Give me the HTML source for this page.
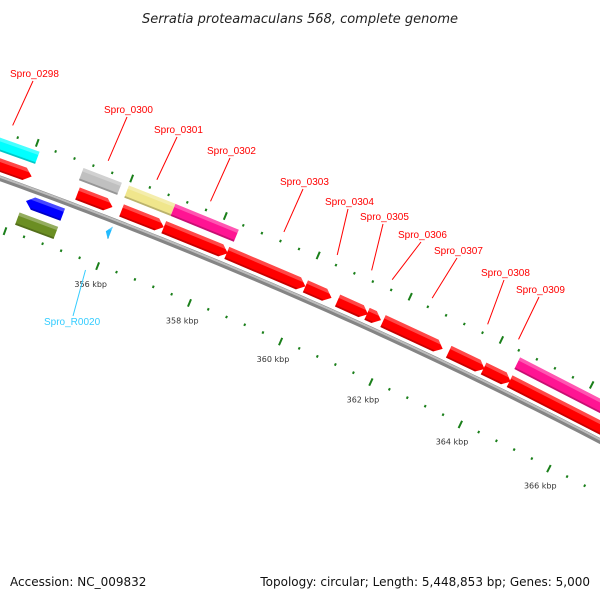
<!DOCTYPE html>
<html><head><meta charset="utf-8"><style>
html,body{margin:0;padding:0;background:#fff}
svg{display:block}
text{font-family:"Liberation Sans","DejaVu Sans",sans-serif}
</style></head><body>
<svg id="map" width="600" height="600" viewBox="0 0 600 600">
<text x="300" y="23" text-anchor="middle" font-size="13" font-style="italic" fill="#222" style="font-family:'DejaVu Sans',sans-serif">Serratia proteamaculans 568, complete genome</text>
<text x="10" y="586" font-size="12" fill="#111" style="font-family:'DejaVu Sans',sans-serif">Accession: NC_009832</text>
<text x="590" y="586" text-anchor="end" font-size="12" fill="#111" style="font-family:'DejaVu Sans',sans-serif">Topology: circular; Length: 5,448,853 bp; Genes: 5,000</text>
<g id="ticks"></g><g id="backbone"></g><g id="genes"></g><g id="labels"></g>
</svg>
<script>
// gene data (bp)
const geneNames = ["g0298a","Spro_0298","g0299","Spro_0300","g0300b","Spro_0301","g0301b","Spro_0302","Spro_0303","Spro_0304","Spro_0305","Spro_0306","Spro_0307","Spro_0308","g0309a","Spro_0309","g0310","g0299b","g0299c","Spro_R0020"];
const geneStarts = [352300,352300,355101,355034,356043,356000,356949,356992,358308,360013,360715,361359,361710,363157,363929,364485,364507,354188,354146,355900];
const geneEnds   = [354125,354103,355849,355849,356949,356990,358329,358351,360013,360583,361381,361666,363024,363951,364530,368000,367600,354974,354974,356000];
const geneStrand = [1,1,1,1,1,1,1,1,1,1,1,1,1,1,1,1,1,-1,-1,-1];
const geneRow    = [1,2,1,2,1,2,1,2,1,1,1,1,1,1,1,2,1,1,2,1];
const geneColor  = ["#ff0000","#00ffff","#ff0000","#c0c0c0","#ff0000","#f0e68c","#ff0000","#ff1493","#ff0000","#ff0000","#ff0000","#ff0000","#ff0000","#ff0000","#ff0000","#ff1493","#ff0000","#0000ff","#6b8e23","#22bbff"];
const geneArrow  = [1,0,1,0,1,0,1,0,1,1,1,1,1,1,1,0,1,1,0,1];
// labels
const labelTexts = ["Spro_0298","Spro_0300","Spro_0301","Spro_0302","Spro_0303","Spro_0304","Spro_0305","Spro_0306","Spro_0307","Spro_0308","Spro_0309"];
const labelBp    = [353424,355440,356474,357618,359192,360342,361088,361534,362405,363620,364300];
const tickLabels = [356000,358000,360000,362000,364000,366000];

const CX=-1662, CY=4791, T0=-1.19992, K=1.0193e-5, RB=4903;
const NS="http://www.w3.org/2000/svg";
function th(bp){return T0+(bp-356000)*K;}
function pt(bp,r){const t=th(bp);return [CX+r*Math.cos(t),CY+r*Math.sin(t)];}
function mk(tag,attrs,parent){const e=document.createElementNS(NS,tag);for(const a in attrs)e.setAttribute(a,attrs[a]);parent.appendChild(e);return e;}
const P=a=>a.map(p=>p[0].toFixed(2)+","+p[1].toFixed(2)).join(" ");

// ticks
const tg=document.getElementById('ticks');
for(let bp=352000;bp<=368000;bp+=400){
  const major=bp%2000===0;
  const o1=pt(bp,major?4945:4946), o2=pt(bp,major?4953:4948.5);
  const l=mk('line',{x1:o1[0],y1:o1[1],x2:o2[0],y2:o2[1],stroke:'#1a7f1a','stroke-width':2},tg);
  
  
  const i1=pt(bp,major?4851:4855), i2=pt(bp,major?4859:4857.5);
  const l2=mk('line',{x1:i1[0],y1:i1[1],x2:i2[0],y2:i2[1],stroke:'#1a7f1a','stroke-width':2},tg);
  
  
}
tickLabels.forEach(bp=>{
  const p=pt(bp,4836);
  const t=mk('text',{x:p[0],y:p[1]+3,'text-anchor':'middle','font-size':8,fill:'#333',style:"font-family:'DejaVu Sans',sans-serif"},tg);
  t.textContent=(bp/1000)+" kbp";
  
  
});

// backbone
const bg=document.getElementById('backbone');
const bpts=[];for(let bp=352000;bp<=368400;bp+=200)bpts.push(bp);
const b1=mk('polyline',{points:P(bpts.map(b=>pt(b,RB))),fill:'none',stroke:'#858585','stroke-width':5.5},bg);


const b2=mk('polyline',{points:P(bpts.map(b=>pt(b,RB+1.3))),fill:'none',stroke:'#bdbdbd','stroke-width':2},bg);



// genes
const gg=document.getElementById('genes');
const H=13;
geneNames.forEach((n,i)=>{
  const s=geneStarts[i], e=geneEnds[i], d=geneStrand[i];
  const r0=RB+d*(geneRow[i]===1?12.5:32);
  const tip=geneArrow[i]?Math.min(150,(e-s)*0.9):0;
  let poly;
  if(d>0) poly=[pt(s,r0+H/2),pt(e-tip,r0+H/2),pt(e,r0),pt(e-tip,r0-H/2),pt(s,r0-H/2)];
  else poly=[pt(e,r0+H/2),pt(s+tip,r0+H/2),pt(s,r0),pt(s+tip,r0-H/2),pt(e,r0-H/2)];
  const g=mk('g',{},gg);
  
  
  mk('polygon',{points:P(poly),fill:geneColor[i]},g);
  let hl;
  if(d>0) hl=[pt(s,r0+H/2),pt(e-tip,r0+H/2),pt(e-tip*0.35,r0+H/2-3.5),pt(s,r0+H/2-3.5)];
  else hl=[pt(e,r0+H/2),pt(s+tip,r0+H/2),pt(s+tip*0.35,r0+H/2-3.5),pt(e,r0+H/2-3.5)];
  mk('polygon',{points:P(hl),fill:'#fff',opacity:0.28},g);
  let sh;
  if(d>0) sh=[pt(s,r0-H/2),pt(e-tip,r0-H/2),pt(e-tip*0.85,r0-H/2+1.8),pt(s,r0-H/2+1.8)];
  else sh=[pt(e,r0-H/2),pt(s+tip,r0-H/2),pt(s+tip*0.85,r0-H/2+1.8),pt(e,r0-H/2+1.8)];
  mk('polygon',{points:P(sh),fill:'#000',opacity:0.22},g);
});

// gene labels
const lg=document.getElementById('labels');
const labelPos=[[10,77],[104,113],[154,133],[207,154],[280,185],[325,205],[360,220],[398,238],[434,254],[481,276],[516,293]];
labelTexts.forEach((txt,i)=>{
  const [x,y]=labelPos[i];
  const end=pt(labelBp[i],4957);
  const g=mk('g',{},lg);
  
  
  const t=mk('text',{x:x,y:y,'font-size':10,fill:'#ff0000'},g);
  t.textContent=txt;
  mk('line',{x1:x+23,y1:y+4,x2:end[0],y2:end[1],stroke:'#ff0000','stroke-width':1},g);
});
(function(){
  const g=mk('g',{},lg);
  
  
  const t=mk('text',{x:44,y:325,'font-size':10,fill:'#33ccff'},g);
  t.textContent="Spro_R0020";
  const e=pt(355800,4847);
  mk('line',{x1:73,y1:316,x2:e[0],y2:e[1],stroke:'#33ccff','stroke-width':1},g);
})();
</script>
</body></html>
